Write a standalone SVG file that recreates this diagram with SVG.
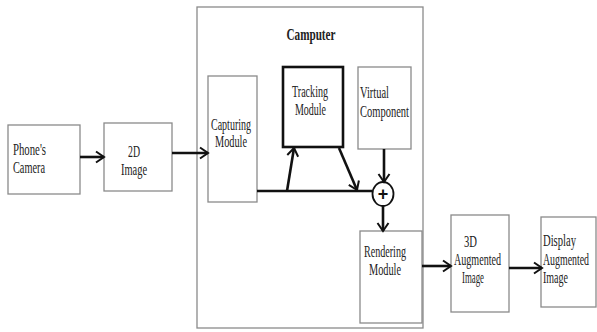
<svg xmlns="http://www.w3.org/2000/svg" width="597" height="332" viewBox="0 0 597 332">
<style>
.box{fill:#fff;stroke:#8a8a8a;stroke-width:1.3}
.thick{fill:#fff;stroke:#111;stroke-width:2.6}
.t{font-family:"Liberation Serif","Times New Roman",serif;font-size:16px;fill:#222}
.b{font-weight:bold;font-size:17px;text-anchor:middle}
.ln{stroke:#111;stroke-width:2.6;fill:none}
</style>
<defs>
<marker id="ah" markerUnits="userSpaceOnUse" markerWidth="12" markerHeight="14" viewBox="0 0 12 14" refX="10" refY="7" orient="auto">
<path d="M2,1.5 L10,7 L2,12.5" fill="none" stroke="#111" stroke-width="2"/>
</marker>
</defs>
<rect width="597" height="332" fill="#fff"/>
<g id="camputer">
<rect class="box" x="197" y="7" width="226" height="321"/>
<text class="t b" x="311" y="40" textLength="49" lengthAdjust="spacingAndGlyphs">Camputer</text>
</g>
<g id="camera">
<rect class="box" x="8" y="125" width="72" height="69"/>
<text class="t" x="13" y="155" textLength="33" lengthAdjust="spacingAndGlyphs">Phone's</text>
<text class="t" x="13" y="173" textLength="32" lengthAdjust="spacingAndGlyphs">Camera</text>
</g>
<g id="image2d">
<rect class="box" x="104" y="123" width="68" height="68"/>
<text class="t" x="128" y="157" textLength="12" lengthAdjust="spacingAndGlyphs">2D</text>
<text class="t" x="121" y="175" textLength="26" lengthAdjust="spacingAndGlyphs">Image</text>
</g>
<g id="capturing">
<rect class="box" x="208" y="76" width="49" height="126"/>
<text class="t" x="211" y="130" textLength="40" lengthAdjust="spacingAndGlyphs">Capturing</text>
<text class="t" x="215" y="147" textLength="32" lengthAdjust="spacingAndGlyphs">Module</text>
</g>
<g id="tracking">
<rect class="thick" x="283" y="67" width="60" height="80"/>
<text class="t" x="292" y="97" textLength="36" lengthAdjust="spacingAndGlyphs">Tracking</text>
<text class="t" x="295" y="115" textLength="31" lengthAdjust="spacingAndGlyphs">Module</text>
</g>
<g id="virtual">
<rect class="box" x="358" y="67" width="53" height="82"/>
<text class="t" x="360" y="98" textLength="29" lengthAdjust="spacingAndGlyphs">Virtual</text>
<text class="t" x="360" y="117" textLength="49" lengthAdjust="spacingAndGlyphs">Component</text>
</g>
<g id="sum">
<ellipse cx="383" cy="194" rx="10.5" ry="12" fill="#fff" stroke="#111" stroke-width="1.8"/>
<text x="383" y="200" text-anchor="middle" font-family="Liberation Sans, Arial, sans-serif" font-weight="bold" font-size="18" fill="#111">+</text>
</g>
<g id="rendering">
<rect class="box" x="360" y="231" width="62" height="92"/>
<text class="t" x="364" y="257" textLength="42" lengthAdjust="spacingAndGlyphs">Rendering</text>
<text class="t" x="369" y="275" textLength="32" lengthAdjust="spacingAndGlyphs">Module</text>
</g>
<g id="augmented3d">
<rect class="box" x="451" y="215" width="58" height="97"/>
<text class="t" x="464" y="247" textLength="13" lengthAdjust="spacingAndGlyphs">3D</text>
<text class="t" x="454" y="265" textLength="47" lengthAdjust="spacingAndGlyphs">Augmented</text>
<text class="t" x="462" y="283" textLength="22" lengthAdjust="spacingAndGlyphs">Image</text>
</g>
<g id="display">
<rect class="box" x="541" y="217" width="55" height="90"/>
<text class="t" x="543" y="246" textLength="33" lengthAdjust="spacingAndGlyphs">Display</text>
<text class="t" x="543" y="265" textLength="46" lengthAdjust="spacingAndGlyphs">Augmented</text>
<text class="t" x="543" y="283" textLength="25" lengthAdjust="spacingAndGlyphs">Image</text>
</g>
<g id="connectors">
<line class="ln" x1="80" y1="157" x2="104" y2="157" marker-end="url(#ah)"/>
<line class="ln" x1="172" y1="153" x2="208" y2="153" marker-end="url(#ah)"/>
<line class="ln" x1="257" y1="191" x2="372.5" y2="191"/>
<line class="ln" x1="287" y1="191" x2="294" y2="148" marker-end="url(#ah)"/>
<line class="ln" x1="339" y1="148" x2="357" y2="190" marker-end="url(#ah)"/>
<line class="ln" x1="384" y1="149" x2="384" y2="182" marker-end="url(#ah)"/>
<line class="ln" x1="383" y1="206" x2="383" y2="231" marker-end="url(#ah)"/>
<line class="ln" x1="422" y1="266" x2="451" y2="266" marker-end="url(#ah)"/>
<line class="ln" x1="509" y1="268" x2="542" y2="268" marker-end="url(#ah)"/>
</g>
</svg>
